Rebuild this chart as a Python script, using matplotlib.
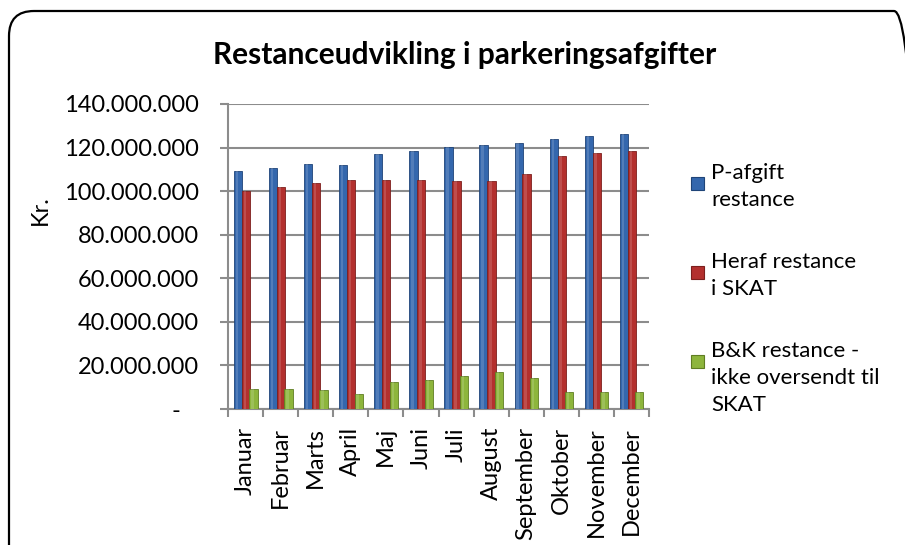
import matplotlib
matplotlib.use("Agg")
import numpy as np
from matplotlib import pyplot as plt
from matplotlib.patches import FancyBboxPatch, Rectangle
from matplotlib.ticker import FuncFormatter, FixedLocator

plt.rcParams['font.family'] = ['Lato', 'DejaVu Sans']

# Data (kr.)
months = ["Januar", "Februar", "Marts", "April", "Maj", "Juni", "Juli",
          "August", "September", "Oktober", "November", "December"]
p_afgift = [109.2e6, 110.6e6, 112.5e6, 111.8e6, 117.0e6, 118.3e6, 120.1e6,
            121.2e6, 122.1e6, 123.9e6, 125.3e6, 126.2e6]
heraf_skat = [100.1e6, 101.7e6, 103.7e6, 105.1e6, 105.1e6, 105.1e6, 104.7e6,
              104.7e6, 107.9e6, 116.1e6, 117.5e6, 118.4e6]
bk_restance = [9.0e6, 9.0e6, 8.6e6, 6.9e6, 12.2e6, 13.2e6, 15.1e6,
               17.0e6, 14.2e6, 7.8e6, 7.8e6, 7.8e6]
series_names = ["P-afgift\nrestance", "Heraf restance\ni SKAT",
                "B&K restance -\nikke oversendt til\nSKAT"]

colors = ["#3467ad", "#b3302e", "#8db53c"]
edges = ["#1f4478", "#7c1f1d", "#5f7d22"]
grid_col = "#8c8c8c"

W, H = 905, 545
fig = plt.figure(figsize=(W / 100, H / 100), dpi=100)

# rounded outer frame (partly cut off at the right and bottom)
frame = FancyBboxPatch((0.09, -0.3), 9.10, 5.64,
                       boxstyle="round,pad=0,rounding_size=0.25",
                       transform=fig.dpi_scale_trans, facecolor="none",
                       edgecolor="black", linewidth=1.6, zorder=-10)
fig.patches.append(frame)

ax = fig.add_axes([228 / W, 1 - 409 / H, (649 - 228) / W, (409 - 104) / H])
ax.set_facecolor("none")

x = np.arange(len(months))
bw = 0.235
offsets = [-0.215, 0.01, 0.225]
for vals, off, c, e in zip([p_afgift, heraf_skat, bk_restance], offsets, colors, edges):
    ax.bar(x + off, vals, width=bw, color=c, edgecolor=e, linewidth=0.6, zorder=3)
    # lighter strip to hint at the rounded 3D look
    ax.bar(x + off - bw * 0.12, vals, width=bw * 0.3, color="white", alpha=0.15,
           linewidth=0, zorder=4)

ax.set_xlim(-0.5, len(months) - 0.5)
ax.set_ylim(0, 140e6)
ax.yaxis.set_major_locator(FixedLocator(np.arange(0, 140e6 + 1, 20e6)))


def fmt(v, pos):
    if v == 0:
        return "-   "
    return f"{int(round(v)):,}".replace(",", ".")


ax.yaxis.set_major_formatter(FuncFormatter(fmt))
ax.grid(axis="y", color=grid_col, linewidth=1.5, zorder=1)

ax.set_xticks(x)
ax.set_xticklabels(months, rotation=90, va="top", ha="center")
ax.set_xticks(np.arange(-0.5, len(months)), minor=True)
ax.tick_params(axis="x", which="major", length=0, pad=13, labelsize=17)
ax.tick_params(axis="x", which="minor", length=6, width=1.5, color=grid_col)
ax.tick_params(axis="y", length=6, width=1.5, color=grid_col, pad=15, labelsize=17)

for s in ["top", "right"]:
    ax.spines[s].set_visible(False)
for s in ["left", "bottom"]:
    ax.spines[s].set_color(grid_col)
    ax.spines[s].set_linewidth(1.5)

fig.text(465 / W, 1 - 55 / H, "Restanceudvikling i parkeringsafgifter",
         ha="center", va="center", fontsize=21.5, fontweight="bold")
fig.text(40 / W, 1 - 210 / H, "Kr.", rotation=90, ha="center", va="center",
         fontsize=17)

# legend, drawn by hand so the squares sit on the first text line
leg_tops = [167, 256, 345]
for name, top, c, e in zip(series_names, leg_tops, colors, edges):
    fig.patches.append(Rectangle((691 / W, 1 - (top + 23) / H), 13 / W, 13 / H,
                                 transform=fig.transFigure, facecolor=c,
                                 edgecolor=e, linewidth=0.8))
    fig.text(711 / W, 1 - (top - 4) / H, name, ha="left", va="top",
             fontsize=16, linespacing=1.45)

fig.savefig("out.png", dpi=100)
